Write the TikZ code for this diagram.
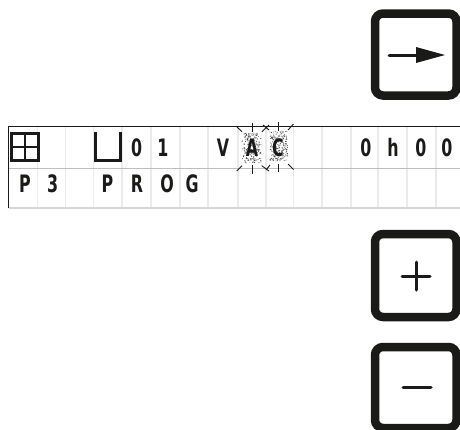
\documentclass[tikz,border=0pt]{standalone}
\usepackage{fontspec}
\setmainfont{Liberation Sans}
\newfontfamily\lcdfont{DejaVu Sans Bold}
\definecolor{ink}{HTML}{1A1A18}
\definecolor{cellline}{HTML}{EAEAEA}
\definecolor{rowline}{HTML}{BEBEBE}
\newcommand{\lcdchar}[1]{\scalebox{0.66}[1]{\fontsize{24}{24}\lcdfont #1}}
\tikzset{
  keybox/.style={draw=ink,line width=8.5pt,rounded corners=8pt},
  keyglyph/.style={draw=ink,line width=3pt,line cap=round},
  lcdtext/.style={text=ink,inner sep=0pt,anchor=center},
  lcdicon/.style={draw=ink,line width=3pt},
  ray/.style={draw=ink,line width=0.9pt},
}
\begin{document}
\begin{tikzpicture}[x=1pt,y=-1pt]
\useasboundingbox (0,0) rectangle (460,429);
% column lines
\foreach \x in {37.7,65.7,93.5,122,151,180,208,238,266,293.5,322,351,378,407,436}
  \draw[cellline,line width=1.2pt] (\x,127) -- (\x,208);
\draw[rowline,line width=1.8pt] (8.5,168.5) -- (460,168.5);
\draw[cellline!92!black,line width=1.2pt] (8.5,208) -- (460,208);
\draw[ink,line width=1.2pt] (8.5,208) -- (8.5,126.8) -- (460,126.8);
% icons
\draw[lcdicon] (11.5,133.2) rectangle (38.5,160.3);
\draw[ink,line width=2.2pt] (25,133) -- (25,160.5) (11.5,146.7) -- (38.5,146.7);
\draw[lcdicon,line cap=butt] (95.4,132) -- (95.4,160) -- (120.8,160) -- (120.8,132);
% stipple
\pgfmathsetseed{4217}
\foreach \cx/\x/\w/\yy/\h in {a/242/19/133/30,c/270/18/131/30}{
  \foreach \i in {1,...,240}{
    \pgfmathsetmacro{\px}{\x+rnd*\w}
    \pgfmathsetmacro{\py}{\yy+rnd*\h}
    \pgfmathsetmacro{\pg}{35+rnd*55}
    \fill[black!\pg] (\px,\py) circle (0.5pt);
  }
}
% rays
\foreach \ax/\ay/\bx/\by in {
  252/123/252/132, 252/165/252/174,
  236.7/126.7/242/131.7, 269/125/262/131.7,
  236.7/171/242/165.7, 261.7/165.7/269/171,
  263/125/269/130,
  278/121.5/278/131, 278/164/278/172,
  293.5/124/288/130, 293.5/169.5/288/164,
  266/170/270/165}
  \draw[ray] (\ax,\ay) -- (\bx,\by);
% row 1
\node[lcdtext] (r1a) at (136.7,148) {\lcdchar{0}};
\node[lcdtext] (r1b) at (163,148) {\lcdchar{1}};
\node[lcdtext] (r1c) at (223,148) {\lcdchar{V}};
\node[lcdtext] (r1d) at (252,148) {\lcdchar{A}};
\node[lcdtext] (r1e) at (278,148) {\lcdchar{C}};
\node[lcdtext] (r1f) at (366,148) {\lcdchar{0}};
\node[lcdtext] (r1g) at (393,147) {\lcdchar{h}};
\node[lcdtext] (r1h) at (421,148) {\lcdchar{0}};
\node[lcdtext] (r1i) at (447,148) {\lcdchar{0}};
% row 2
\node[lcdtext] (r2a) at (25,184) {\lcdchar{P}};
\node[lcdtext] (r2b) at (52.7,184) {\lcdchar{3}};
\node[lcdtext] (r2c) at (107.5,184) {\lcdchar{P}};
\node[lcdtext] (r2d) at (137,184) {\lcdchar{R}};
\node[lcdtext] (r2e) at (167,184) {\lcdchar{O}};
\node[lcdtext] (r2f) at (192,184) {\lcdchar{G}};
% keys
\draw[keybox] (375,13.5) rectangle (456.5,95.5);
\draw[keybox] (375,234) rectangle (456.5,317);
\draw[keybox] (375,347) rectangle (456.5,428);
% glyphs
\draw[keyglyph] (389,55) -- (417,55);
\fill[ink] (416,47) -- (445,55) -- (416,63) -- cycle;
\draw[keyglyph] (402,276) -- (430,276) (416,262) -- (416,290);
\draw[keyglyph] (403,387) -- (431,387);
\end{tikzpicture}
\end{document}
